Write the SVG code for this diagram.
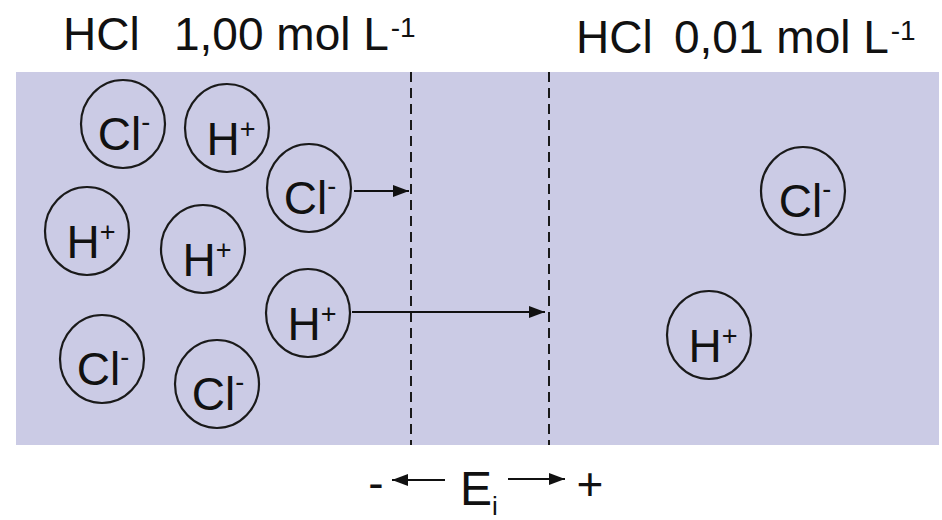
<svg xmlns="http://www.w3.org/2000/svg" width="942" height="520" viewBox="0 0 942 520">
<defs>
<style>
.t{font-family:"Liberation Sans",Arial,sans-serif;fill:#111;}
.ion{fill:none;stroke:#1a1a1a;stroke-width:2.2;}
.lab{font-family:"Liberation Sans",Arial,sans-serif;font-size:46px;fill:#111;text-anchor:middle;}
.sup{font-size:27px;}
.dash{stroke:#1a1a1a;stroke-width:2;stroke-dasharray:10 6;}
.arr{stroke:#111;stroke-width:2.2;fill:none;}
</style>
<marker id="ah" viewBox="0 0 10 10" refX="10" refY="5" markerWidth="16" markerHeight="12" markerUnits="userSpaceOnUse" orient="auto" preserveAspectRatio="none">
<path d="M0,0 L10,5 L0,10 Z" fill="#111"/>
</marker>
</defs>
<rect x="0" y="0" width="942" height="520" fill="#ffffff"/>
<rect id="solution" x="16" y="72" width="923" height="373" fill="#cbcbe5"/>
<text class="t" font-size="46" x="63" y="50">HCl<tspan x="174">1,00 mol L</tspan><tspan font-size="28" dx="2" dy="-13">-1</tspan></text>
<text class="t" font-size="46" x="576" y="53">HCl<tspan x="674">0,01 mol L</tspan><tspan font-size="28" dx="2" dy="-13">-1</tspan></text>
<g id="boundaries">
<line class="dash" x1="411" y1="72" x2="411" y2="445"/>
<line class="dash" x1="549" y1="72" x2="549" y2="445"/>
</g>
<g id="ion1"><ellipse class="ion" cx="123" cy="124" rx="42" ry="44"/><text class="lab" x="124" y="150">Cl<tspan class="sup" dy="-19">-</tspan></text></g>
<g id="ion2"><ellipse class="ion" cx="227" cy="128" rx="42" ry="44"/><text class="lab" x="231" y="155">H<tspan class="sup" dy="-17">+</tspan></text></g>
<g id="ion3"><ellipse class="ion" cx="309" cy="188" rx="42" ry="44"/><text class="lab" x="310" y="214">Cl<tspan class="sup" dy="-19">-</tspan></text></g>
<g id="ion4"><ellipse class="ion" cx="87" cy="231" rx="42" ry="44"/><text class="lab" x="91" y="258">H<tspan class="sup" dy="-17">+</tspan></text></g>
<g id="ion5"><ellipse class="ion" cx="203" cy="249" rx="42" ry="44"/><text class="lab" x="207" y="276">H<tspan class="sup" dy="-17">+</tspan></text></g>
<g id="ion6"><ellipse class="ion" cx="308" cy="313" rx="42" ry="44"/><text class="lab" x="312" y="340">H<tspan class="sup" dy="-17">+</tspan></text></g>
<g id="ion7"><ellipse class="ion" cx="102" cy="359" rx="42" ry="44"/><text class="lab" x="103" y="385">Cl<tspan class="sup" dy="-19">-</tspan></text></g>
<g id="ion8"><ellipse class="ion" cx="217" cy="384" rx="42" ry="44"/><text class="lab" x="218" y="410">Cl<tspan class="sup" dy="-19">-</tspan></text></g>
<g id="ion9"><ellipse class="ion" cx="803" cy="191" rx="42" ry="44"/><text class="lab" x="805" y="217">Cl<tspan class="sup" dy="-19">-</tspan></text></g>
<g id="ion10"><ellipse class="ion" cx="709" cy="335" rx="42" ry="44"/><text class="lab" x="713" y="362">H<tspan class="sup" dy="-17">+</tspan></text></g>
<g id="connectors">
<line class="arr" x1="354" y1="191" x2="409" y2="191" marker-end="url(#ah)"/>
<line class="arr" x1="352" y1="312" x2="545" y2="312" marker-end="url(#ah)"/>
<line class="arr" x1="445" y1="480" x2="392" y2="480" marker-end="url(#ah)"/>
<line class="arr" x1="508" y1="479" x2="565" y2="479" marker-end="url(#ah)"/>
</g>
<g id="potential">
<text class="t" font-size="46" x="376" y="499" text-anchor="middle">-</text>
<text class="t" font-size="48" x="460" y="505">E<tspan font-size="26" dy="10">i</tspan></text>
<text class="t" font-size="46" x="590" y="500" text-anchor="middle">+</text>
</g>
</svg>
